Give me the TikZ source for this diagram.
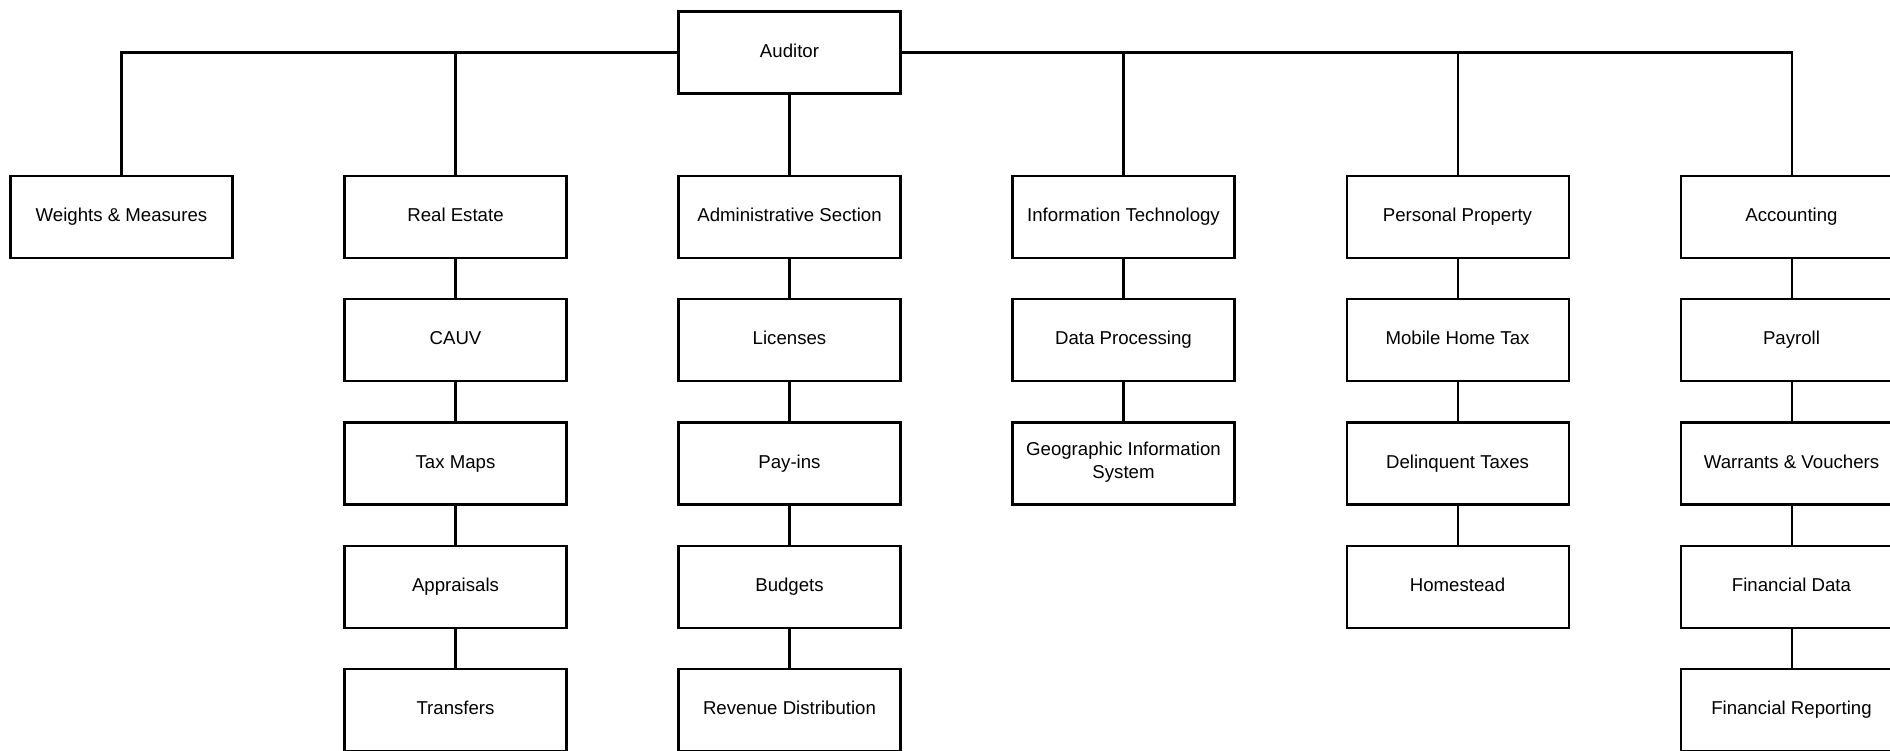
\documentclass[tikz,border=0pt]{standalone}
\usepackage{fontspec}
\setmainfont{Liberation Sans}
\usepackage{tikz}
\tikzstyle{unitblock} = [rectangle, draw, fill=white, line width=1.15pt,
    align=center, minimum width=4.44cm, minimum height=1.64cm,
    font=\fontsize{10.6}{13}\selectfont,
    execute at begin node=\strut, execute at end node=\strut]
\tikzstyle{line} = [draw, line width=1.15pt]

\begin{document}
\begin{tikzpicture}
    \useasboundingbox (0,0) rectangle (37.8,-15);
    \node [unitblock] (auditor) at (15.79,-1.05) {Auditor};
    % first row
    \node [unitblock, below of=auditor, node distance=3.29cm] (admin) {Administrative Section};
    \node [unitblock, left of=admin, node distance=6.68cm] (realestate) {Real Estate};
    \node [unitblock, left of=realestate, node distance=6.68cm] (weights) {Weights \& Measures};
    \node [unitblock, right of=admin, node distance=6.68cm] (infotech) {Information Technology};
    \node [unitblock, right of=infotech, node distance=6.68cm] (personal) {Personal Property};
    \node [unitblock, right of=personal, node distance=6.68cm] (accounting) {Accounting};
    % real estate
    \node [unitblock, below of=realestate, node distance=2.465cm] (cauv) {CAUV};
    \node [unitblock, below of=cauv, node distance=2.465cm] (taxmaps) {Tax Maps};
    \node [unitblock, below of=taxmaps, node distance=2.465cm] (appraisals) {Appraisals};
    \node [unitblock, below of=appraisals, node distance=2.465cm] (transfers) {Transfers};
    % administrative section
    \node [unitblock, below of=admin, node distance=2.465cm] (licenses) {Licenses};
    \node [unitblock, below of=licenses, node distance=2.465cm] (payins) {Pay-ins};
    \node [unitblock, below of=payins, node distance=2.465cm] (budgets) {Budgets};
    \node [unitblock, below of=budgets, node distance=2.465cm] (revenue) {Revenue Distribution};
    % information technology
    \node [unitblock, below of=infotech, node distance=2.465cm] (dataproc) {Data Processing};
    \node [unitblock, below of=dataproc, node distance=2.465cm] (gis) {Geographic Information\\System};
    % personal property
    \node [unitblock, below of=personal, node distance=2.465cm] (mobilehome) {Mobile Home Tax};
    \node [unitblock, below of=mobilehome, node distance=2.465cm] (delinquent) {Delinquent Taxes};
    \node [unitblock, below of=delinquent, node distance=2.465cm] (homestead) {Homestead};
    % accounting
    \node [unitblock, below of=accounting, node distance=2.465cm] (payroll) {Payroll};
    \node [unitblock, below of=payroll, node distance=2.465cm] (warrants) {Warrants \& Vouchers};
    \node [unitblock, below of=warrants, node distance=2.465cm] (findata) {Financial Data};
    \node [unitblock, below of=findata, node distance=2.465cm] (finreport) {Financial Reporting};
    % Draw edges
    \path[line] (auditor.west) -| (weights.north);
    \path[line] (auditor.west) -| (realestate.north);
    \path[line] (auditor.south) -- (admin.north);
    \path[line] (auditor.east) -| (infotech.north);
    \path[line] (auditor.east) -| (personal.north);
    \path[line] (auditor.east) -| (accounting.north);
    \path[line] (realestate) -- (cauv) -- (taxmaps) -- (appraisals) -- (transfers);
    \path[line] (admin) -- (licenses) -- (payins) -- (budgets) -- (revenue);
    \path[line] (infotech) -- (dataproc) -- (gis);
    \path[line] (personal) -- (mobilehome) -- (delinquent) -- (homestead);
    \path[line] (accounting) -- (payroll) -- (warrants) -- (findata) -- (finreport);
\end{tikzpicture}
\end{document}
